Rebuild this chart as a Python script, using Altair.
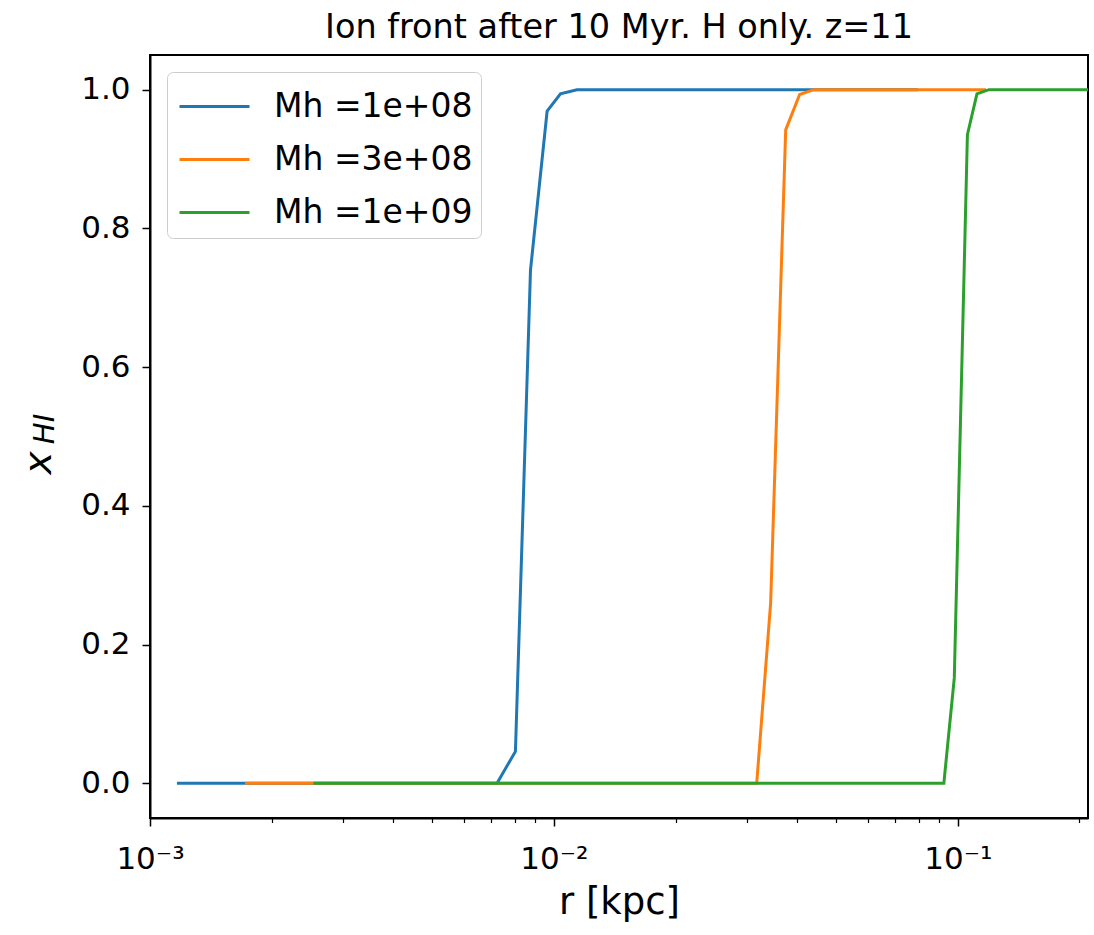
import altair as alt
import pandas as pd

# ---- data ----
series_labels = ["Mh =1e+08", "Mh =3e+08", "Mh =1e+09"]
series_colors = ["#1f77b4", "#ff7f0e", "#2ca02c"]

blue_r = [0.001166, 0.00723, 0.00803, 0.00875, 0.00962, 0.01038, 0.0114, 0.0796]
blue_x = [0.0, 0.0, 0.046, 0.74, 0.969, 0.994, 1.0, 1.0]

orange_r = [0.001719, 0.03177, 0.0344, 0.03748, 0.04059, 0.04396, 0.1174]
orange_x = [0.0, 0.0, 0.26, 0.942, 0.993, 1.0, 1.0]

green_r = [0.00254, 0.09233, 0.098, 0.1056, 0.1115, 0.1194, 0.21]
green_x = [0.0, 0.0, 0.152, 0.935, 0.994, 1.0, 1.0]

major_ticks = [0.001, 0.01, 0.1]
minor_ticks = [0.002, 0.003, 0.004, 0.005, 0.006, 0.007, 0.008, 0.009,
               0.02, 0.03, 0.04, 0.05, 0.06, 0.07, 0.08, 0.09, 0.2]
y_ticks = [0.0, 0.2, 0.4, 0.6, 0.8, 1.0]

title_text = "Ion front after 10 Myr. H only. z=11"
x_title = "r [kpc]"

rows = []
for lab, rs, xs in zip(series_labels, [blue_r, orange_r, green_r], [blue_x, orange_x, green_x]):
    for r, v in zip(rs, xs):
        rows.append({"series": lab, "r": r, "xHI": v})
df = pd.DataFrame(rows)

FONT = "DejaVu Sans"

x_scale = alt.Scale(type="log", domain=[0.001, 0.21], nice=False)
y_scale = alt.Scale(domain=[-0.05, 1.05], nice=False, zero=False)

lines = alt.Chart(df).mark_line(strokeWidth=3, clip=True).encode(
    x=alt.X("r:Q", scale=x_scale,
            axis=alt.Axis(orient="bottom", values=major_ticks,
                          labelExpr="'10' + (datum.value < 0.005 ? '⁻³' : datum.value < 0.05 ? '⁻²' : '⁻¹')",
                          title=x_title, titleFontSize=37, titleFont=FONT, titleFontWeight="normal",
                          titleColor="black", titleBaseline="alphabetic", titleY=95,
                          labelFontSize=31, labelFont=FONT, labelColor="black",
                          labelPadding=18, tickSize=8, tickWidth=1.5, tickColor="black",
                          domainColor="black", domainWidth=2, grid=False, labelFlush=False)),
    y=alt.Y("xHI:Q", scale=y_scale,
            axis=alt.Axis(values=y_ticks, format=".1f", title=None,
                          labelFontSize=31, labelFont=FONT, labelColor="black",
                          labelPadding=12, tickSize=8, tickWidth=1.5, tickColor="black",
                          domainColor="black", domainWidth=2, grid=False)),
    color=alt.Color("series:N",
                    scale=alt.Scale(domain=series_labels, range=series_colors),
                    legend=alt.Legend(title=None, orient="none", legendX=17, legendY=17,
                                      symbolType="M-1.4,0L1.4,0", symbolSize=2500,
                                      symbolStrokeWidth=3, symbolOffset=13,
                                      labelFontSize=33, labelFont=FONT, labelLimit=500,
                                      labelColor="black", labelOffset=33, rowPadding=9,
                                      padding=8, strokeColor="#cccccc", cornerRadius=6,
                                      fillColor="white")),
)

minor = alt.Chart(df).mark_point(opacity=0).encode(
    x=alt.X("r:Q", scale=x_scale,
            axis=alt.Axis(orient="bottom", values=minor_ticks, labels=False, title=None,
                          tickSize=4.5, tickWidth=1.2, tickColor="black",
                          domain=False, grid=False)),
)

ylab_x = alt.Chart(pd.DataFrame({"t": ["x"]})).mark_text(
    font=FONT, fontSize=39, fontStyle="italic", angle=270, align="center",
    baseline="middle", color="black"
).encode(text="t:N", x=alt.value(-111), y=alt.value(408))

ylab_sub = alt.Chart(pd.DataFrame({"t": ["HI"]})).mark_text(
    font=FONT, fontSize=29, fontStyle="italic", angle=270, align="center",
    baseline="middle", color="black"
).encode(text="t:N", x=alt.value(-105), y=alt.value(374))

chart = alt.layer(lines, minor, ylab_x, ylab_sub).resolve_axis(x="independent").properties(
    width=938, height=763,
    padding={"left": 150, "top": 55, "right": 6, "bottom": 117},
    autosize=alt.AutoSizeParams(type="none"),
    title=alt.TitleParams(title_text, fontSize=33.5, font=FONT, fontWeight="normal",
                          color="black", anchor="middle", offset=10),
).configure(background="white").configure_view(stroke="black", strokeWidth=2)

chart.save("out.html", embed_options={"renderer": "svg", "actions": False})
